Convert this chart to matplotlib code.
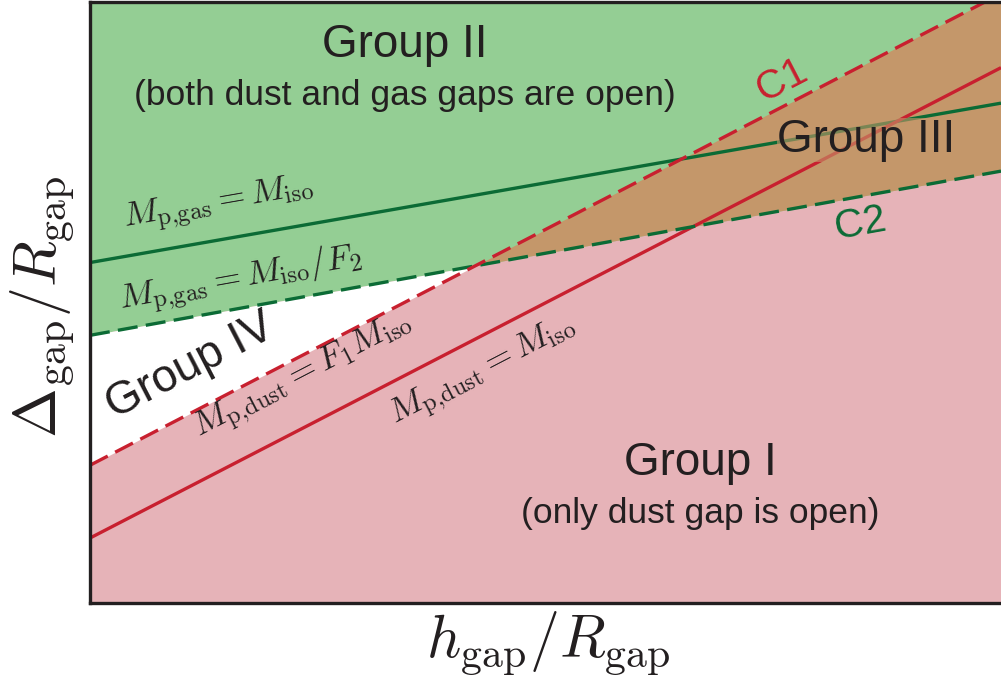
import numpy as np
import matplotlib
matplotlib.use("Agg")
import matplotlib.pyplot as plt

plt.rcParams['mathtext.fontset'] = 'cm'
plt.rcParams['font.family'] = ['Liberation Sans', 'DejaVu Sans']

# ---- data (normalised h_gap/R_gap on x, Delta_gap/R_gap on y) ----
x_ends = [0.0, 1.0]
dust_iso = [0.108, 0.890]    # M_p,dust = M_iso   (red solid)
dust_F1 = [0.229, 1.013]     # M_p,dust = F1 M_iso (red dashed, C1)
gas_iso = [0.566, 0.831]     # M_p,gas = M_iso    (green solid)
gas_F2 = [0.445, 0.718]      # M_p,gas = M_iso/F2 (green dashed, C2)

GREEN_FILL = '#94CE94'
PINK_FILL = '#E6B3B8'
BROWN_FILL = '#C4976A'
RED = '#C8202F'
DGREEN = '#0B6B35'
INK = '#231F20'

W, H = 1001, 677
fig = plt.figure(figsize=(W / 100, H / 100), dpi=100)
ax = fig.add_axes([90 / W, (H - 603) / H, 1 - 90 / W, (603 - 1.5) / H])
ax.set_xlim(0, 1)
ax.set_ylim(0, 1)

x = np.array(x_ends)
a = np.array(dust_F1)
g = np.array(gas_F2)

ax.set_facecolor(PINK_FILL)
ax.fill_between(x, g, 1.2, color=GREEN_FILL, lw=0, zorder=1)
ax.fill_between(x, a, g, where=a <= g, interpolate=True, color='white', lw=0, zorder=1.1)
ax.fill_between(x, g, a, where=a >= g, interpolate=True, color=BROWN_FILL, lw=0, zorder=1.1)

lw = 2.4
ax.plot(x, gas_iso, color=DGREEN, lw=lw, zorder=3, solid_capstyle='butt')
ax.plot(x, dust_iso, color=RED, lw=lw, zorder=3, solid_capstyle='butt')
ax.plot(x, gas_F2, color=DGREEN, lw=lw, zorder=3, dashes=(6.0, 2.5), dash_capstyle='butt')
ax.plot(x, dust_F1, color=RED, lw=lw, zorder=3, dashes=(6.0, 2.5), dash_capstyle='butt')

for s in ['left', 'bottom', 'top']:
    ax.spines[s].set_linewidth(2.4)
    ax.spines[s].set_color(INK)
    ax.spines[s].set_zorder(5)
ax.spines['right'].set_visible(False)
ax.set_xticks([])
ax.set_yticks([])

fig.canvas.draw()


def angle_of(yv):
    p0 = ax.transData.transform((x_ends[0], yv[0]))
    p1 = ax.transData.transform((x_ends[1], yv[1]))
    return np.degrees(np.arctan2(p1[1] - p0[1], p1[0] - p0[0]))


def pix(px, py):
    inv = ax.transData.inverted()
    return inv.transform((px, H - py))


def put(px, py, s, rot=0, **kw):
    xd, yd = pix(px, py)
    return ax.text(xd, yd, s, rotation=rot, rotation_mode='anchor', ha='center', va='center',
                   zorder=6, **kw)


ang_red = angle_of(dust_F1)
ang_gi = angle_of(gas_iso)
ang_gf = angle_of(gas_F2)

put(405, 45, 'Group II', fontsize=33, color=INK)
put(405, 95, '(both dust and gas gaps are open)', fontsize=25.5, color=INK)
put(700, 463, 'Group I', fontsize=33, color=INK)
put(700, 513, '(only dust gap is open)', fontsize=25.5, color=INK)
put(866, 140, 'Group III', fontsize=33, color=INK,
    bbox=dict(facecolor=BROWN_FILL, alpha=0.6, edgecolor='none', pad=0))
put(190, 366, 'Group IV', rot=ang_red, fontsize=33, color=INK)
put(782, 80, 'C1', rot=ang_red, fontsize=29, color=RED)
put(860, 224, 'C2', rot=ang_gf, fontsize=29, color=DGREEN)

MS = 25
put(219, 205, r'$M_{\mathrm{p{,}gas}} = M_{\mathrm{iso}}$', rot=ang_gi, fontsize=MS, color=INK)
put(241, 280, r'$M_{\mathrm{p{,}gas}} = M_{\mathrm{iso}}/F_2$', rot=ang_gf, fontsize=MS, color=INK)
put(303, 377, r'$M_{\mathrm{p{,}dust}} = F_1 M_{\mathrm{iso}}$', rot=ang_red, fontsize=MS, color=INK)
put(483, 372, r'$M_{\mathrm{p{,}dust}} = M_{\mathrm{iso}}$', rot=ang_red, fontsize=MS, color=INK)

fig.text(548 / W, 1 - 643 / H, r'$h_{\mathrm{gap}}/R_{\mathrm{gap}}$', fontsize=43, ha='center', va='center', color=INK)
fig.text(42 / W, 1 - 307 / H, r'$\Delta_{\mathrm{gap}}/R_{\mathrm{gap}}$', fontsize=43, ha='center', va='center',
         rotation=90, color=INK)

fig.savefig('out.png', dpi=100)
